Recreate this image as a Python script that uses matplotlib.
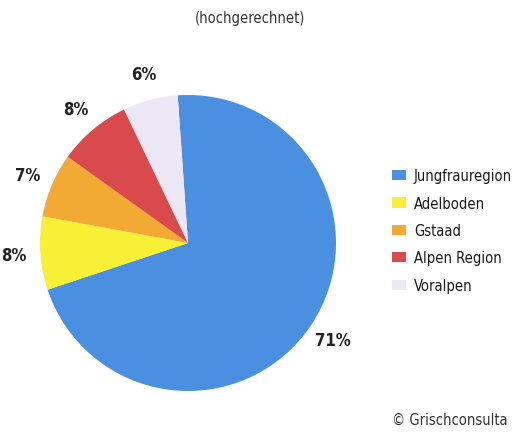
import matplotlib
matplotlib.use("Agg")
import matplotlib.pyplot as plt

categories = ["Jungfrauregion", "Adelboden", "Gstaad", "Alpen Region", "Voralpen"]
values = [71, 8, 7, 8, 6]
colors = ["#4a8fe0", "#f7f035", "#f2aa35", "#d94a4c", "#ece6f5"]

fam = "DejaVu Sans"
plt.rcParams["font.family"] = [fam]

W, H = 517, 435
fig = plt.figure(figsize=(W / 100, H / 100), dpi=100)
cx, cy, r = 188, 244, 148
ax = fig.add_axes([(cx - r) / W, (H - cy - r) / H, 2 * r / W, 2 * r / H])
wedges, texts, autotexts = ax.pie(
    values, colors=colors, startangle=94, counterclock=False,
    autopct="%d%%", pctdistance=1.18,
    wedgeprops=dict(linewidth=0),
    textprops=dict(fontsize=12, color="#222222", fontstretch="condensed",
                   fontweight="bold"))
ax.set_aspect("equal")
ax.set_xlim(-1, 1)
ax.set_ylim(-1, 1)

fig.text(250 / W, 1 - 18 / H, "(hochgerechnet)", ha="center", va="center",
         fontsize=10.5, color="#333333", fontstretch="condensed")
fig.text(508 / W, 1 - 420 / H, "© Grischconsulta", ha="right", va="center",
         fontsize=10.5, color="#333333", fontstretch="condensed")

leg = fig.legend(wedges, categories, loc="upper left",
                 bbox_to_anchor=(382 / W, 1 - 159 / H), frameon=False,
                 handlelength=0.95, handleheight=0.7, handletextpad=0.55,
                 labelspacing=0.85, borderpad=0.2,
                 prop=dict(family=fam, size=10.5, stretch="condensed"))
for t in leg.get_texts():
    t.set_color("#1a1a1a")

fig.savefig("out.png", dpi=100, facecolor="white")
